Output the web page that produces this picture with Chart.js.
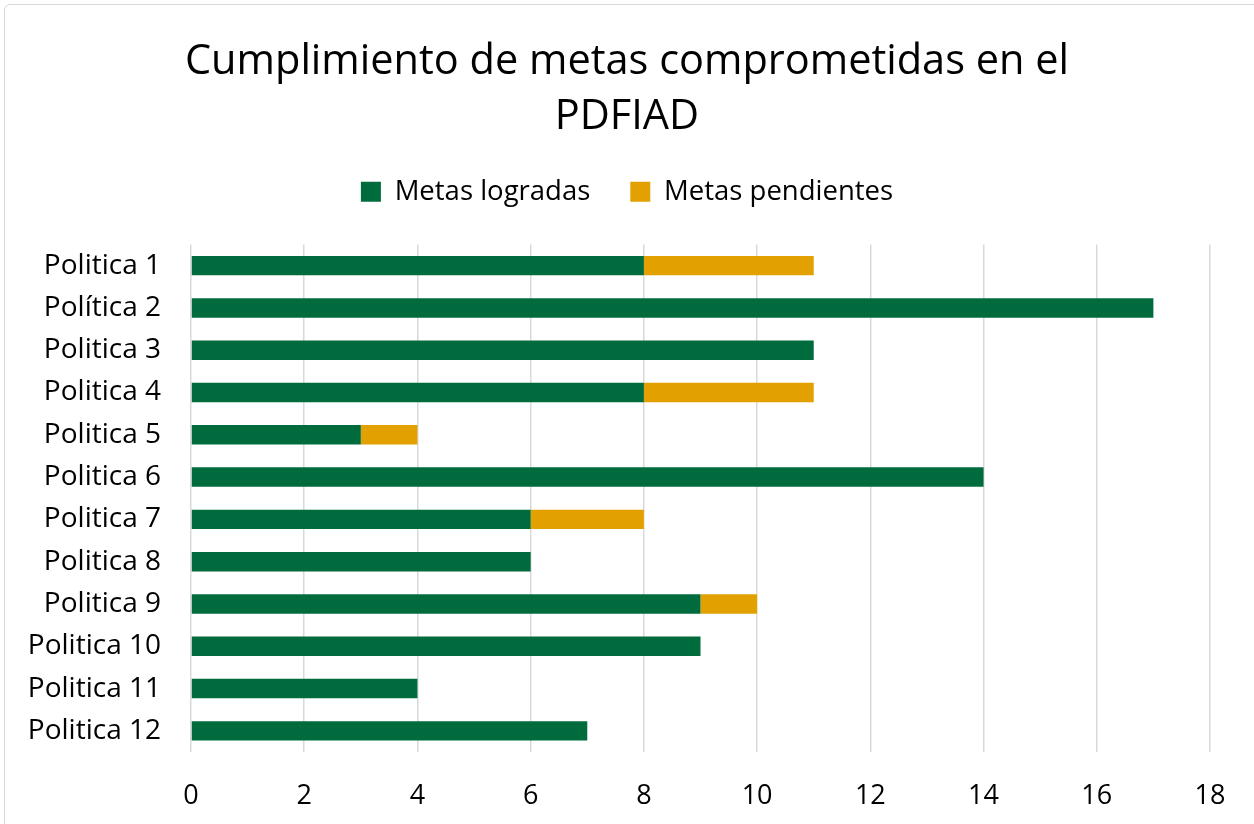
<!DOCTYPE html>
<html>
<head>
<meta charset="utf-8">
<script src="https://cdn.jsdelivr.net/npm/chart.js@4/dist/chart.umd.min.js"></script>
<style>
  html, body { margin: 0; padding: 0; background: #fff; }
  #frame { position: absolute; left: 4px; top: 4px; width: 1262px; height: 832px; border: 1px solid #d9d9d9; border-radius: 6px; }
  #wrap { position: absolute; left: 0; top: 0; width: 1254px; height: 824px; }
</style>
</head>
<body>
<div id="frame"></div>
<div id="wrap"><canvas id="chart" width="1254" height="824"></canvas></div>
<script>
const categories = ['Politica 1', 'Política 2', 'Politica 3', 'Politica 4', 'Politica 5', 'Politica 6',
  'Politica 7', 'Politica 8', 'Politica 9', 'Politica 10', 'Politica 11', 'Politica 12'];
const logradas = [8, 17, 11, 8, 3, 14, 6, 6, 9, 9, 4, 7];
const pendientes = [3, 0, 0, 3, 1, 0, 2, 0, 1, 0, 0, 0];
const xTicks = [0, 2, 4, 6, 8, 10, 12, 14, 16, 18];

const FONT = '"Open Sans", "Noto Sans", sans-serif';

// push the plot down a bit below the legend
const legendGap = {
  id: 'legendGap',
  beforeInit(chart) {
    const fit = chart.legend.fit;
    chart.legend.fit = function () {
      fit.call(this);
      this.height += 29;
    };
  }
};

new Chart(document.getElementById('chart'), {
  type: 'bar',
  plugins: [legendGap],
  data: {
    labels: categories,
    datasets: [
      { label: 'Metas logradas', data: logradas, backgroundColor: '#006b3c', barPercentage: 0.46, categoryPercentage: 1 },
      { label: 'Metas pendientes', data: pendientes, backgroundColor: '#e2a100', barPercentage: 0.46, categoryPercentage: 1 }
    ]
  },
  options: {
    indexAxis: 'y',
    responsive: false,
    animation: false,
    layout: { padding: 0 },
    plugins: {
      title: {
        display: true,
        text: ['Cumplimiento de metas comprometidas en el', 'PDFIAD'],
        color: '#000',
        font: { family: FONT, size: 41.5, weight: 'normal', lineHeight: 1.325 },
        padding: { top: 35, bottom: -7 }
      },
      legend: {
        position: 'top',
        labels: {
          color: '#000',
          font: { family: FONT, size: 27.5 },
          boxWidth: 20,
          boxHeight: 20,
          padding: 40
        }
      },
      tooltip: { enabled: false }
    },
    scales: {
      x: {
        stacked: true,
        min: 0,
        max: 18,
        afterBuildTicks(scale) { scale.ticks = xTicks.map(v => ({ value: v })); },
        grid: { color: '#d9d9d9', lineWidth: 1.5, drawTicks: false },
        border: { display: false },
        ticks: { color: '#000', font: { family: FONT, size: 27 }, padding: 28, maxRotation: 0 },
        afterFit(scale) { scale.height = 72; }
      },
      y: {
        stacked: true,
        grid: { display: false },
        border: { display: false },
        ticks: { color: '#000', font: { family: FONT, size: 28 }, padding: 22 },
        afterFit(scale) { scale.width = 191; }
      },
      // empty right-hand strip so the title and legend centre on the whole canvas
      yRight: {
        position: 'right',
        grid: { display: false },
        border: { display: false },
        ticks: { display: false },
        afterFit(scale) { scale.width = 44; }
      }
    }
  }
});
</script>
</body>
</html>
